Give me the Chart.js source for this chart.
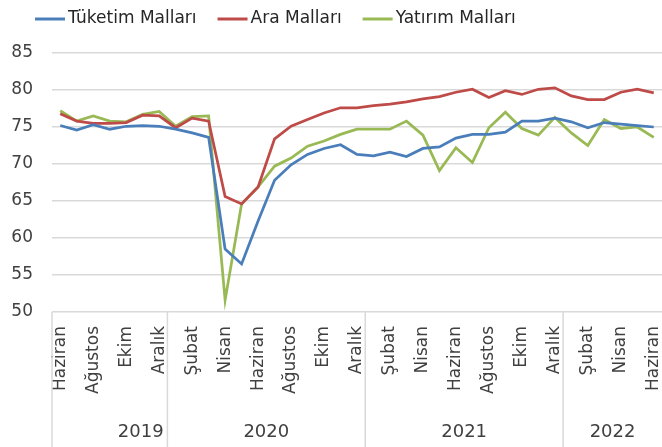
<!DOCTYPE html>
<html lang="tr">
<head>
    <meta charset="UTF-8">
    <title>Kapasite Kullanım Oranı</title>
    <script src="https://cdn.jsdelivr.net/npm/chart.js@4.4.1/dist/chart.umd.js"></script>
    <style>
        body { margin: 0; background: #fff; }
        #wrap { width: 662px; height: 447px; position: relative; }
    </style>
</head>
<body>
    <div id="wrap"><canvas id="chart"></canvas></div>

    <script>
        // Haziran 2019 - Haziran 2022
        const months = [
            'Haziran', 'Temmuz', 'Ağustos', 'Eylül', 'Ekim', 'Kasım', 'Aralık',
            'Ocak', 'Şubat', 'Mart', 'Nisan', 'Mayıs', 'Haziran', 'Temmuz', 'Ağustos', 'Eylül', 'Ekim', 'Kasım', 'Aralık',
            'Ocak', 'Şubat', 'Mart', 'Nisan', 'Mayıs', 'Haziran', 'Temmuz', 'Ağustos', 'Eylül', 'Ekim', 'Kasım', 'Aralık',
            'Ocak', 'Şubat', 'Mart', 'Nisan', 'Mayıs', 'Haziran'
        ];
        const years = [
            '2019', '2019', '2019', '2019', '2019', '2019', '2019',
            '2020', '2020', '2020', '2020', '2020', '2020', '2020', '2020', '2020', '2020', '2020', '2020',
            '2021', '2021', '2021', '2021', '2021', '2021', '2021', '2021', '2021', '2021', '2021', '2021',
            '2022', '2022', '2022', '2022', '2022', '2022'
        ];

        const tuketim = [75.2, 74.6, 75.3, 74.7, 75.1, 75.2, 75.1, 74.7, 74.2, 73.6, 58.5, 56.5, 62.3,
            67.8, 69.9, 71.3, 72.1, 72.6, 71.3, 71.1, 71.6, 71.0, 72.1, 72.3, 73.5,
            74.0, 74.0, 74.3, 75.8, 75.8, 76.2, 75.7, 74.9, 75.6, 75.4, 75.2, 75.0];
        const ara = [76.8, 75.8, 75.5, 75.5, 75.6, 76.6, 76.5, 74.9, 76.2, 75.8, 65.6, 64.6, 66.9,
            73.4, 75.1, 76.0, 76.9, 77.6, 77.6, 77.9, 78.1, 78.4, 78.8, 79.1, 79.7,
            80.1, 79.0, 79.9, 79.4, 80.1, 80.3, 79.2, 78.7, 78.7, 79.7, 80.1, 79.6];
        const yatirim = [77.2, 75.8, 76.5, 75.8, 75.7, 76.7, 77.1, 75.1, 76.4, 76.5, 51.6, 64.6, 66.9,
            69.7, 70.8, 72.4, 73.1, 74.0, 74.7, 74.7, 74.7, 75.8, 73.9, 69.1, 72.2,
            70.2, 74.9, 77.0, 74.8, 73.9, 76.3, 74.2, 72.5, 76.0, 74.8, 75.0, 73.6];

        const seriesNames = ['Tüketim Malları', 'Ara Malları', 'Yatırım Malları'];
        const seriesColors = ['#4a7ebb', '#be4b48', '#98b954'];

        const FONT = '"DejaVu Sans", sans-serif';
        const textColor = '#404040';
        const gridColor = '#d9d9d9';

        // legend drawn like the excel one: short line, then the name
        const topLegend = {
            id: 'topLegend',
            afterDraw(chart) {
                const ctx = chart.ctx;
                ctx.save();
                ctx.font = '17px ' + FONT;
                ctx.textBaseline = 'middle';
                ctx.textAlign = 'left';
                let x = 35;
                const y = 19;
                chart.data.datasets.forEach((ds) => {
                    ctx.strokeStyle = ds.borderColor;
                    ctx.lineWidth = 3;
                    ctx.beginPath();
                    ctx.moveTo(x, y);
                    ctx.lineTo(x + 30, y);
                    ctx.stroke();
                    ctx.fillStyle = '#262626';
                    ctx.fillText(ds.label, x + 33, y);
                    x += 33 + ctx.measureText(ds.label).width + 21;
                });
                ctx.restore();
            }
        };

        // year groups and separators under the month labels
        const yearGroups = {
            id: 'yearGroups',
            afterDraw(chart) {
                const ctx = chart.ctx;
                const xs = chart.scales.x;
                const half = (xs.getPixelForValue(1) - xs.getPixelForValue(0)) / 2;
                const top = chart.chartArea.bottom;
                const bottom = chart.height;

                ctx.save();
                ctx.strokeStyle = gridColor;
                ctx.lineWidth = 1.5;
                ctx.fillStyle = textColor;
                ctx.font = '18px ' + FONT;
                ctx.textAlign = 'center';
                ctx.textBaseline = 'middle';

                let start = 0;
                for (let i = 1; i <= years.length; i++) {
                    if (i === years.length || years[i] !== years[start]) {
                        const left = xs.getPixelForValue(start) - half;
                        const right = xs.getPixelForValue(i - 1) + half;
                        ctx.beginPath();
                        ctx.moveTo(left, top);
                        ctx.lineTo(left, bottom);
                        ctx.stroke();
                        let cx = (left + right) / 2;
                        if (start === 0) cx += 31;
                        ctx.fillText(years[start], cx, bottom - 15);
                        start = i;
                    }
                }
                ctx.restore();
            }
        };

        new Chart(document.getElementById('chart'), {
            type: 'line',
            data: {
                labels: months,
                datasets: [
                    { label: seriesNames[0], data: tuketim, borderColor: seriesColors[0] },
                    { label: seriesNames[1], data: ara, borderColor: seriesColors[1] },
                    { label: seriesNames[2], data: yatirim, borderColor: seriesColors[2] }
                ]
            },
            options: {
                responsive: true,
                maintainAspectRatio: false,
                animation: false,
                layout: { padding: { left: 0, right: 0, top: 53, bottom: 0 } },
                elements: {
                    line: { borderWidth: 2.75, tension: 0 },
                    point: { radius: 0, hoverRadius: 0 }
                },
                plugins: {
                    tooltip: { enabled: false },
                    legend: { display: false }
                },
                scales: {
                    x: {
                        offset: true,
                        grid: { display: false },
                        border: { display: false },
                        ticks: {
                            autoSkip: false,
                            minRotation: 90,
                            maxRotation: 90,
                            padding: 6,
                            color: textColor,
                            font: { family: FONT, size: 17 },
                            callback: (v, i) => (i % 2 === 0 ? months[i] : '')
                        },
                        afterFit: (scale) => {
                            scale.height = 135;
                            scale.paddingLeft = 0;
                            scale.paddingRight = 0;
                        }
                    },
                    y: {
                        min: 50,
                        max: 85,
                        grid: { color: gridColor, lineWidth: 1.5, drawTicks: false },
                        border: { display: false },
                        ticks: {
                            stepSize: 5,
                            padding: 19,
                            color: textColor,
                            font: { family: FONT, size: 17 }
                        },
                        afterFit: (scale) => { scale.width = 52; }
                    }
                }
            },
            plugins: [yearGroups, topLegend]
        });
    </script>
</body>
</html>
